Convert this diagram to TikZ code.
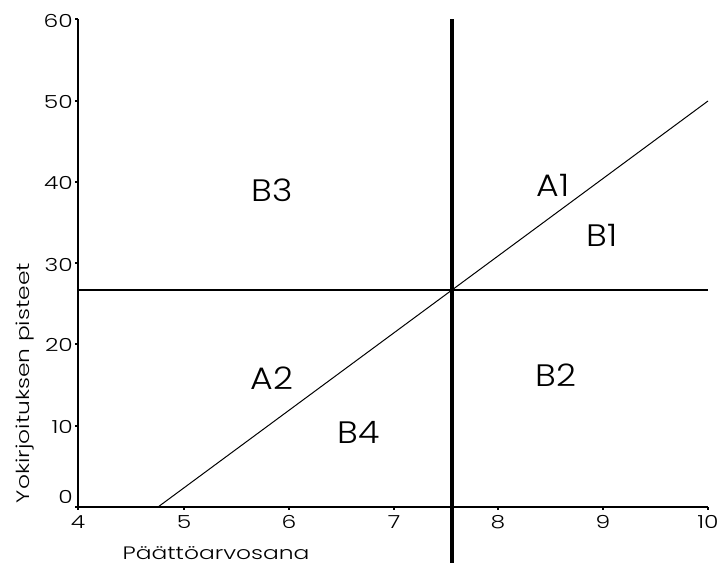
\documentclass[tikz,border=0pt]{standalone}
\usepackage{fontspec}
\setmainfont{Poppins}
\newfontfamily\gothic[FakeStretch=1.3]{Poppins Light}
\newfontfamily\gothicb[FakeStretch=1.12]{Poppins Light}
\begin{document}
\begin{tikzpicture}[x=1pt,y=-1pt,
  ticklab/.style={font=\gothic\fontsize{18}{18}\selectfont, inner sep=0pt},
  region/.style={font=\gothicb\fontsize{31}{31}\selectfont, inner sep=0pt},
  axis/.style={line width=1.8pt},
  tickdot/.style={line width=1.6pt}]
\useasboundingbox (0,0) rectangle (724,571);
% coordinates
\coordinate (O) at (78,507);
\coordinate (Ytop) at (78,19);
\coordinate (Xend) at (708,507);
\coordinate (Vtop) at (452,19);
\coordinate (Vbot) at (452,563);
\coordinate (Hl) at (78,290);
\coordinate (Hr) at (708,290);
\coordinate (Ds) at (158,507);
\coordinate (De) at (708,101);
% axes
\draw[axis] (Ytop) -- (O) -- (Xend);
% y ticks
\foreach \v/\yy/\ly in {0/507/497,10/426/427,20/344/345,30/263/265,40/182/183,50/101/102,60/19/21}{
  \draw[tickdot] (75,\yy) -- (78,\yy);
  \node[ticklab, anchor=east] (yl\v) at (73,\ly) {\v};
}
% x ticks
\foreach \v/\xx in {4/78,5/184,6/289,7/394,8/498,9/603,10/708}{
  \draw[tickdot] (\xx,507) -- (\xx,510);
  \node[ticklab, anchor=north] (xl\v) at (\xx,515) {\v};
}
% axis titles
\node[ticklab, rotate=90] (ytitle) at (25,383) {Yokirjoituksen pisteet};
\node[ticklab] (xtitle) at (216,553) {Päättöarvosana};
% division lines
\draw[line width=3.8pt] (Vtop) -- (Vbot);
\draw[line width=2.8pt] (Hl) -- (Hr);
\draw[line width=1pt] (Ds) -- (De);
% region labels
\node[region] (B3) at (272,190) {B3};
\node[region] (A1) at (553,185) {A1};
\node[region] (B1) at (602,235) {B1};
\node[region] (A2) at (272,378) {A2};
\node[region] (B2) at (556,375) {B2};
\node[region] (B4) at (359,432) {B4};
\end{tikzpicture}
\end{document}
